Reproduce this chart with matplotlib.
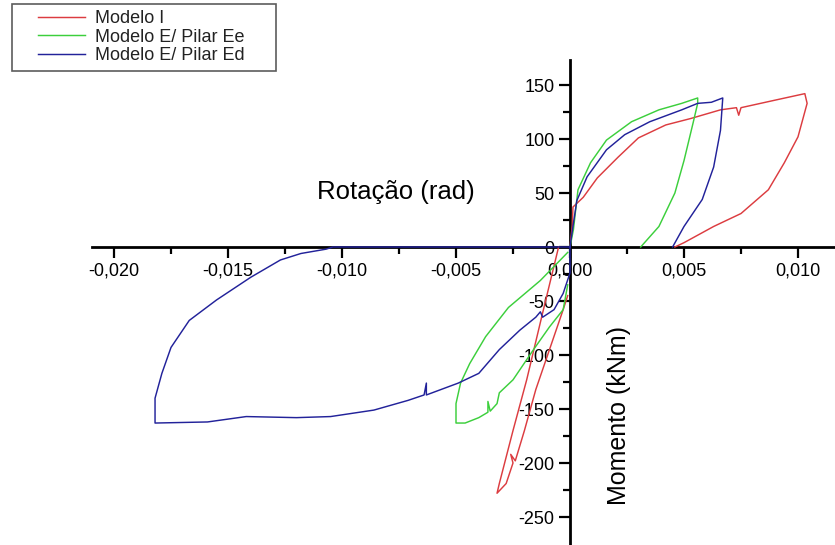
import numpy as np
import matplotlib
matplotlib.use("Agg")
import matplotlib.pyplot as plt
from matplotlib.legend_handler import HandlerLine2D
from matplotlib.lines import Line2D
from matplotlib.ticker import FuncFormatter, FixedLocator

nan = np.nan

# Modelo I (rad, kNm); NaN separates the two branches
red_x = [0, 0.0001, 0.00013, 0.00058, 0.0012, 0.0021, 0.003, 0.0042, 0.0053,
         0.0066, 0.0073, 0.0074, 0.0075, 0.009, 0.0103, 0.0104, 0.0100, 0.0094,
         0.0087, 0.0075, 0.0063, 0.005, 0.0046,
         nan,
         -0.0005, -0.0012, -0.0019, -0.0025, -0.0031, -0.0032, -0.0028, -0.0025,
         -0.0026, -0.0024, -0.002, -0.0015, -0.0009, -0.0003, -0.0001]
red_y = [0, 20, 37, 46, 64, 83, 101, 113, 119,
         127, 129, 122, 129, 136, 142, 133, 102, 78,
         53, 31, 19, 4, 0,
         nan,
         0, -61, -123, -170, -219, -228, -219, -200,
         -192, -198, -170, -132, -95, -58, -45]

# Modelo E/ Pilar Ee
green_x = [0, 0.00015, 0.00035, 0.0009, 0.0016, 0.0027, 0.0039, 0.0049, 0.0056,
           0.0056, 0.0054, 0.005, 0.0046, 0.0039, 0.0031,
           nan,
           -0.0001, -0.0013, -0.0027, -0.0037, -0.0044, -0.0048, -0.005, -0.005,
           -0.0046, -0.004, -0.0036, -0.0036, -0.0035, -0.0032, -0.0031, -0.0025,
           -0.0016, -0.0009, -0.0003, -0.0001]
green_y = [0, 16, 53, 78, 99, 116, 127, 133, 138,
           133, 115, 80, 50, 19, 0,
           nan,
           -5, -31, -56, -83, -108, -126, -145, -163,
           -163, -158, -153, -143, -152, -145, -135, -123,
           -95, -74, -58, -35]

# Modelo E/ Pilar Ed
blue_x = [0, 0.00015, 0.0003, 0.00075, 0.0016, 0.0024, 0.0035, 0.0049, 0.0056,
          0.0062, 0.0067, 0.0066, 0.0063, 0.0058, 0.005, 0.0045,
          nan,
          0, 0, -0.0003, -0.0007, -0.0012, -0.0013, -0.0015, -0.0022, -0.0031,
          -0.004, -0.0049, -0.0063, -0.0063, -0.0064, -0.0071, -0.0086, -0.0105,
          -0.012, -0.0142, -0.0159, -0.0182, -0.0182, -0.0179, -0.0175, -0.0167,
          -0.0155, -0.014, -0.0127, -0.0118, -0.0107, -0.0104, 0]
blue_y = [0, 22, 43, 65, 90, 104, 116, 127, 133,
          134, 138, 108, 74, 44, 19, 0,
          nan,
          0, -24, -43, -58, -65, -60, -65, -77, -95,
          -117, -126, -137, -126, -137, -142, -151, -157,
          -158, -157, -162, -163, -140, -117, -93, -68,
          -49, -28, -12, -6, -2, 0, 0]

labels = ["Modelo I", "Modelo E/ Pilar Ee", "Modelo E/ Pilar Ed"]
colors = ["#dc3c40", "#3ccf3c", "#22229a"]

x_major = [-0.020, -0.015, -0.010, -0.005, 0.0, 0.005, 0.010]
x_minor = [-0.0175, -0.0125, -0.0075, -0.0025, 0.0025, 0.0075]
y_major = [-250, -200, -150, -100, -50, 0, 50, 100, 150]
y_minor = [-225, -175, -125, -75, -25, 25, 75, 125]

plt.rcParams["font.family"] = ["Liberation Sans", "DejaVu Sans"]

W, H = 835, 545
fig = plt.figure(figsize=(W / 100, H / 100), dpi=100)
ax = fig.add_axes([0, 0, 1, 1])
ax.patch.set_alpha(0)


# pixel -> data mapping
def px_x(px):
    return (px - 570) / 114 * 0.005


def px_y(py):
    return (247 - py) / 54 * 50


ax.set_xlim(px_x(0), px_x(W))
ax.set_ylim(px_y(H), px_y(0))

# curves sit on top of the axis lines, as in the original
for xs, ys, c, lab in zip([red_x, green_x, blue_x], [red_y, green_y, blue_y], colors, labels):
    ax.plot(xs, ys, color=c, lw=1.05, label=lab, zorder=3)

for side in ("top", "right"):
    ax.spines[side].set_visible(False)
ax.spines["left"].set_position(("data", 0))
ax.spines["bottom"].set_position(("data", 0))
ax.spines["left"].set_bounds(px_y(H), px_y(60))
ax.spines["bottom"].set_bounds(px_x(92), px_x(W))
for side in ("left", "bottom"):
    ax.spines[side].set_linewidth(2)

ax.xaxis.set_major_locator(FixedLocator(x_major))
ax.xaxis.set_minor_locator(FixedLocator(x_minor))
ax.yaxis.set_major_locator(FixedLocator(y_major))
ax.yaxis.set_minor_locator(FixedLocator(y_minor))
ax.xaxis.set_major_formatter(FuncFormatter(lambda v, p: f"{v:.3f}".replace(".", ",")))
ax.yaxis.set_major_formatter(FuncFormatter(lambda v, p: f"{int(round(v))}"))
ax.tick_params(axis="both", which="major", direction="out", length=8, width=1.6,
               labelsize=13, colors="black", pad=3)
ax.tick_params(axis="both", which="minor", direction="out", length=5, width=1.6)

ax.text(px_x(396), px_y(192), "Rotação (rad)", fontsize=18.5, ha="center", va="center")
ax.text(px_x(619), px_y(415), "Momento (kNm)", fontsize=18, rotation=90,
        ha="center", va="center")


class ShortLine(HandlerLine2D):
    # legend sample drawn only on the right part of the handle box
    def get_xdata(self, legend, xdescent, ydescent, width, height, fontsize):
        xdata = np.array([-xdescent + 0.3 * width, -xdescent + width])
        return xdata, xdata


leg = ax.legend(loc="upper left", bbox_to_anchor=(12 / W, 1 - 4 / H, 264 / W, 0),
                mode="expand", frameon=True, fancybox=False, fontsize=13,
                handlelength=3.7, handletextpad=0.55, labelspacing=0.08,
                borderaxespad=0, borderpad=0.35,
                handler_map={Line2D: ShortLine()})
leg.get_frame().set_edgecolor("#333333")
leg.get_frame().set_linewidth(1.2)
for t in leg.get_texts():
    t.set_color("#222222")

fig.savefig("out.png", dpi=100)
